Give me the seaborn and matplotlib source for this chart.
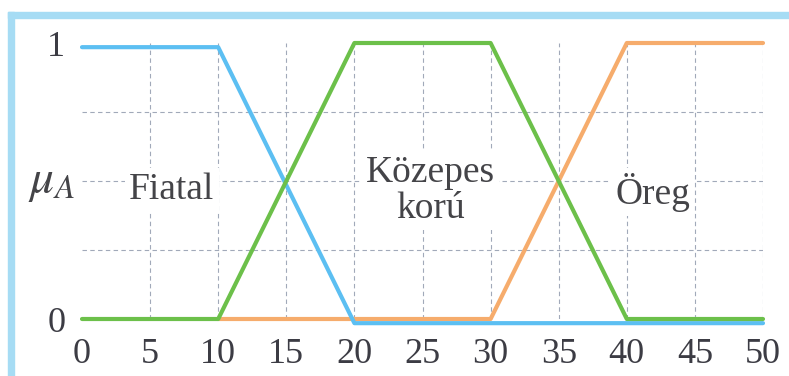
import matplotlib
matplotlib.use("Agg")
import matplotlib.pyplot as plt
import matplotlib.transforms as mtransforms
from matplotlib.patches import Rectangle
import pandas as pd
import seaborn as sns

# membership functions (breakpoints)
age_young = [0, 10, 20, 50]
mu_young = [1, 1, 0, 0]
age_middle = [0, 10, 20, 30, 40, 50]
mu_middle = [0, 0, 1, 1, 0, 0]
age_old = [10, 30, 40, 50]
mu_old = [0, 0, 1, 1]

x_ticks = [0, 5, 10, 15, 20, 25, 30, 35, 40, 45, 50]
y_ticks = [0, 1]
y_ticklabels = ["0", "1"]
y_grid = [0.25, 0.5, 0.75]
labels = ["Fiatal", "Közepes\nkorú", "Öreg"]
label_x = [6.6, 25.6, 41.9]
label_y = [0.47, 0.465, 0.46]

sns.set_style("white")
plt.rcParams["font.family"] = ["Liberation Serif", "DejaVu Serif"]
plt.rcParams["mathtext.fontset"] = "stix"

fig = plt.figure(figsize=(7.89, 3.76), dpi=100)
ax = fig.add_axes([82 / 789, 57 / 376, (763 - 82) / 789, (319 - 43) / 376])

# scan frame (light blue band at top and left)
fig.patches.append(Rectangle((8 / 789, 358 / 376), 1, 6 / 376, transform=fig.transFigure,
                             color="#a6dcf4", zorder=0))
fig.patches.append(Rectangle((8 / 789, 0), 6 / 789, 364 / 376, transform=fig.transFigure,
                             color="#a6dcf4", zorder=0))

df_young = pd.DataFrame({"age": age_young, "mu": mu_young})
df_middle = pd.DataFrame({"age": age_middle, "mu": mu_middle})
df_old = pd.DataFrame({"age": age_old, "mu": mu_old})

# dashed grid
grid_kw = dict(color="#8a94a8", linestyle=(0, (4, 3)), linewidth=0.8, alpha=0.8, zorder=1)
ax.vlines(x_ticks[1:], 0, 1, **grid_kw)
ax.hlines(y_grid, 0, 50, **grid_kw)

sns.lineplot(data=df_old, x="age", y="mu", ax=ax, color="#f6ac6c", linewidth=3, sort=False,
             clip_on=False, zorder=3)
blue = sns.lineplot(data=df_young, x="age", y="mu", ax=ax, color="#5cbff2", linewidth=3,
                    sort=False, clip_on=False, zorder=3)
off = mtransforms.ScaledTranslation(0, -3 / 72, fig.dpi_scale_trans)
blue.lines[-1].set_transform(ax.transData + off)
sns.lineplot(data=df_middle, x="age", y="mu", ax=ax, color="#6cc04a", linewidth=3, sort=False,
             clip_on=False, zorder=4)

ax.set_xlim(0, 50)
ax.set_ylim(0, 1)
ax.set_xticks(x_ticks)
ax.set_xticklabels([str(v) for v in x_ticks])
ax.set_yticks(y_ticks)
ax.set_yticklabels(y_ticklabels)
ax.grid(False)
ax.tick_params(which="both", length=0)
ax.tick_params(axis="x", pad=14, labelsize=26, colors="#3c3c44")
ax.tick_params(axis="y", pad=12, labelsize=26, colors="#3c3c44")
for s in ax.spines.values():
    s.set_visible(False)
ax.set_xlabel("")
ax.set_ylabel("")

for t, x, y in zip(labels, label_x, label_y):
    ax.text(x, y, t, ha="center", va="center", fontsize=27, color="#444448",
            linespacing=1.05, zorder=2,
            bbox=dict(facecolor="white", edgecolor="none", pad=3))

fig.text(52 / 789, (376 - 183) / 376, r"$\mu_A$", fontsize=34, color="#444448",
         ha="center", va="center")

fig.savefig("out.png", dpi=100, facecolor="white")
